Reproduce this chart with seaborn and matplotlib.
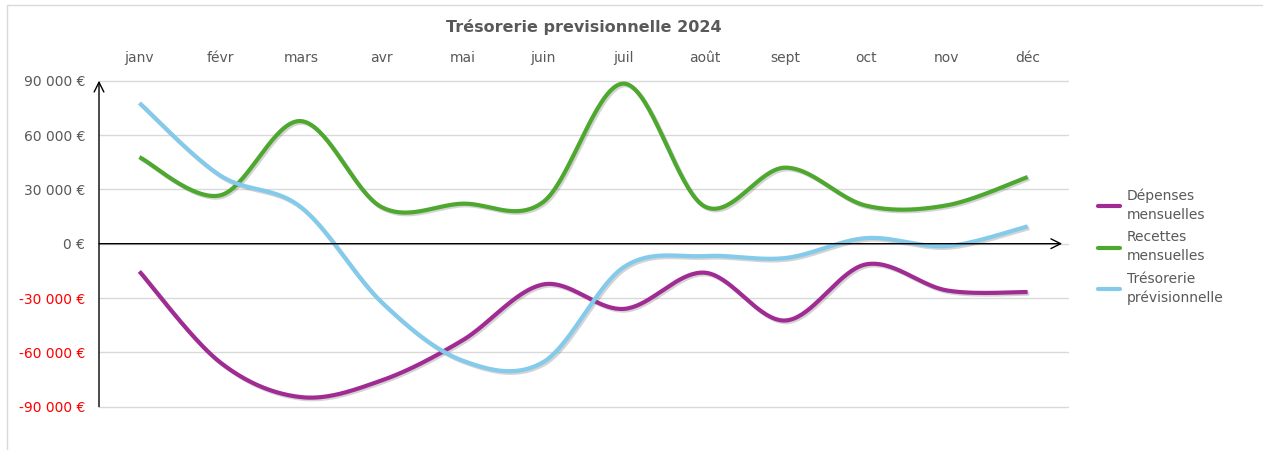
import numpy as np
import pandas as pd
import matplotlib
matplotlib.use("Agg")
import matplotlib.pyplot as plt
import matplotlib.patheffects as pe
from matplotlib.lines import Line2D
from matplotlib.patches import Rectangle
import seaborn as sns

# ── Data ────────────────────────────────────────────────────────────────────
mois = ["janv", "févr", "mars", "avr", "mai", "juin",
        "juil", "août", "sept", "oct", "nov", "déc"]
depenses = [-15300, -65500, -84700, -75500, -53400, -22500,
            -36000, -16000, -42400, -11400, -25800, -26700]
recettes = [47800, 26700, 67700, 20200, 22100, 23000,
            88400, 20600, 42000, 21000, 21200, 36800]
tresorerie = [77700, 37700, 20200, -32300, -64500, -65400,
              -12900, -6800, -7900, 3100, -1300, 9600]

series = ["Dépenses\nmensuelles", "Recettes\nmensuelles", "Trésorerie\nprévisionnelle"]
PURPLE = "#A02B93"
GREEN = "#4EA72E"
BLUE = "#83CAEB"
GREY = "#595959"
GRID = "#D9D9D9"


def smooth(y, n=40):
    """Excel-like smoothed line: cubic Bezier with Catmull-Rom control points."""
    pts = np.column_stack([np.arange(len(y), dtype=float), np.asarray(y, float)])
    p = np.vstack([pts[0], pts, pts[-1]])
    out = []
    t = np.linspace(0, 1, n)[:, None]
    for i in range(1, len(p) - 2):
        p0, p1, p2, p3 = p[i - 1], p[i], p[i + 1], p[i + 2]
        c1 = p1 + (p2 - p0) / 6
        c2 = p2 - (p3 - p1) / 6
        seg = (1 - t) ** 3 * p1 + 3 * (1 - t) ** 2 * t * c1 + 3 * (1 - t) * t ** 2 * c2 + t ** 3 * p2
        out.append(seg if i == 1 else seg[1:])
    return np.vstack(out)


frames = []
for name, vals in zip(series, [depenses, recettes, tresorerie]):
    s = smooth(vals)
    frames.append(pd.DataFrame({"x": s[:, 0], "y": s[:, 1], "serie": name}))
df = pd.concat(frames, ignore_index=True)

sns.set_style("white")
plt.rcParams["font.family"] = ["DejaVu Sans"]

fig = plt.figure(figsize=(12.63, 4.5), dpi=100)
ax = fig.add_axes([99 / 1263, 1 - 406.7 / 450, 969 / 1263, 326 / 450])

sns.lineplot(data=df, x="x", y="y", hue="serie", sort=False, estimator=None,
             palette=[PURPLE, GREEN, BLUE], linewidth=3, legend=False, ax=ax)
for ln in ax.lines:
    ln.set_solid_capstyle("butt")
    ln.set_path_effects([pe.SimpleLineShadow(offset=(1.2, -1.2), alpha=0.25,
                                             shadow_color="#555555"), pe.Normal()])

ax.set_xlim(-0.5, len(mois) - 0.5)
ax.set_ylim(-90000, 90000)
ax.set_yticks(np.arange(-90000, 90001, 30000))
ax.set_yticklabels([f"{v:,.0f} €".replace(",", " ") for v in ax.get_yticks()])
for lab, v in zip(ax.get_yticklabels(), ax.get_yticks()):
    lab.set_color("#FF0000" if v < 0 else GREY)
ax.set_xticks(range(len(mois)))
ax.set_xticklabels(mois, color=GREY)
ax.xaxis.tick_top()
ax.tick_params(axis="x", length=0, pad=11, labelsize=10)
ax.tick_params(axis="y", length=0, pad=10, labelsize=10)
ax.set_xlabel("")
ax.set_ylabel("")
ax.grid(axis="y", color=GRID, linewidth=1)
ax.grid(axis="x", visible=False)
ax.set_axisbelow(True)
for gl in ax.get_ygridlines():
    gl.set_clip_on(False)
for sp in ax.spines.values():
    sp.set_visible(False)

# axes drawn as arrows
ax.annotate("", xy=(0, 1.0), xytext=(0, 0), xycoords="axes fraction",
            arrowprops=dict(arrowstyle="->,head_length=0.7,head_width=0.35",
                            color="black", lw=1, shrinkA=0, shrinkB=0))
ax.annotate("", xy=(0.994, 0), xytext=(0, 0), xycoords=ax.get_yaxis_transform(),
            arrowprops=dict(arrowstyle="->,head_length=0.7,head_width=0.35",
                            color="black", lw=1, shrinkA=0, shrinkB=0))

fig.text(0.5 * (99 + 1068) / 1263, 1 - 27 / 450, "Trésorerie previsionnelle 2024",
         ha="center", va="center", fontsize=11.5, fontweight="bold", color=GREY)

handles = [Line2D([], [], color=c, lw=3) for c in [PURPLE, GREEN, BLUE]]
leg = fig.legend(handles, series, loc="center left",
                 bbox_to_anchor=(1085 / 1263, 1 - 247 / 450), frameon=False,
                 fontsize=10, handlelength=1.6, handletextpad=0.5, labelspacing=0.6,
                 labelcolor=GREY)
for t in leg.get_texts():
    t.set_linespacing(1.45)

fig.add_artist(Rectangle((7 / 1263, -0.01), 1.0, 1 - 5 / 450 + 0.01,
                         transform=fig.transFigure, fill=False,
                         edgecolor=GRID, linewidth=1))

fig.savefig("out.png", dpi=100)
